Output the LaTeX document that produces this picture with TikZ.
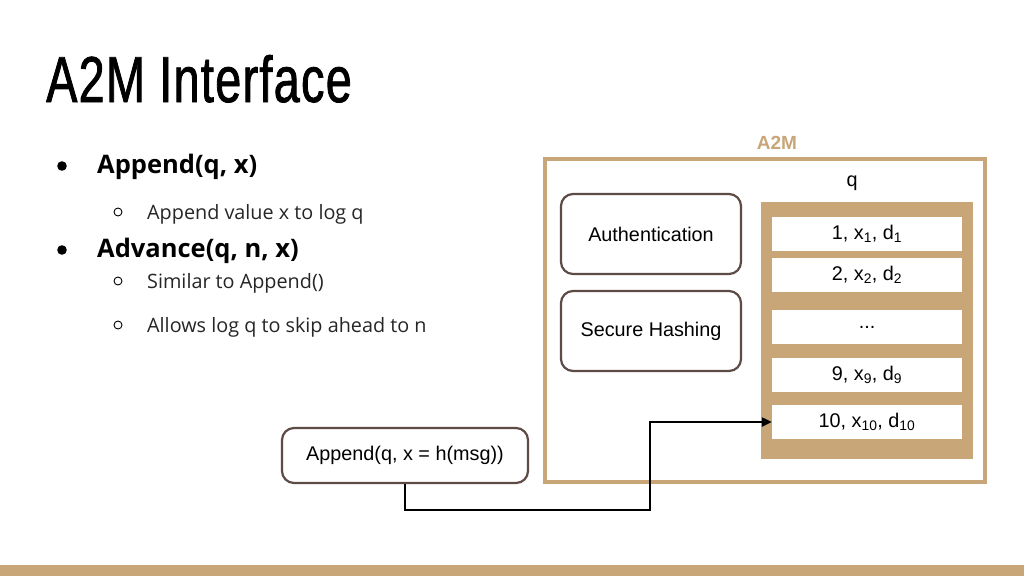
\documentclass[tikz,border=0pt]{standalone}
\usepackage{fontspec}
\setmainfont{Open Sans}
\newfontfamily\titlefont[FakeStretch=0.72,FakeBold=1.2,LetterSpace=2]{Liberation Sans}
\newfontfamily\diag{Liberation Sans}
\usetikzlibrary{arrows.meta}
\definecolor{tan}{HTML}{C9A677}
\definecolor{bord}{HTML}{5E4B45}
\tikzset{
  bul/.style={anchor=base west,inner sep=0pt,font=\fontsize{25.5}{25.5}\selectfont\bfseries},
  sub/.style={anchor=base west,inner sep=0pt,font=\fontsize{19.8}{19.8}\selectfont,text=black!85},
  rbox/.style={draw=bord,line width=2.2pt,rounded corners=12pt,fill=white,font=\diag\fontsize{19.8}{19.8}\selectfont,inner sep=0pt},
  row/.style={fill=white,minimum width=190pt,minimum height=34pt,inner sep=0pt,font=\diag\fontsize{19.8}{19.8}\selectfont},
}
\begin{document}
\begin{tikzpicture}[x=1pt,y=-1pt]
\useasboundingbox (0,0) rectangle (1024,576);
\fill[white] (0,0) rectangle (1024,576);
\fill[tan] (0,565) rectangle (1024,576);
% title
\node[anchor=base west,inner sep=0pt,font=\titlefont\fontsize{65}{65}\selectfont] (title) at (46,102) {A2M Interface};
% bullets
\fill (62,166) circle (4.8);
\fill (62,250) circle (4.8);
\draw[line width=0.9pt] (118,212) circle (4);
\draw[line width=0.9pt] (118,281) circle (4);
\draw[line width=0.9pt] (118,325) circle (4);
\node[bul] (b1) at (97,173) {Append(q, x)};
\node[sub] (s1) at (147,219) {Append value x to log q};
\node[bul] (b2) at (97,257) {Advance(q, n, x)};
\node[sub] (s2) at (147,288) {Similar to Append()};
\node[sub] (s3) at (147,332) {Allows log q to skip ahead to n};
% A2M box
\draw[tan,line width=3.2pt] (545,159) rectangle (985,482);
\node[text=tan,font=\diag\bfseries\fontsize{19}{19}\selectfont,inner sep=0pt] (lab) at (777,143) {A2M};
\node[font=\diag\fontsize{19.8}{19.8}\selectfont,inner sep=0pt] (q) at (852,183) {q};
\node[rbox,minimum width=180pt,minimum height=80pt] (auth) at (651,234) {Authentication};
\node[rbox,minimum width=180pt,minimum height=80pt] (hash) at (651,331) {Secure Hashing};
\fill[tan] (761,202) rectangle (973,459);
\node[row] (r1) at (867,234) {1, x\textsubscript{1}, d\textsubscript{1}};
\node[row] (r2) at (867,274.5) {2, x\textsubscript{2}, d\textsubscript{2}};
\node[row] (r3) at (867,327) {...};
\node[row] (r4) at (867,374.5) {9, x\textsubscript{9}, d\textsubscript{9}};
\node[row] (r5) at (867,422) {10, x\textsubscript{10}, d\textsubscript{10}};
% append box
\node[rbox,minimum width=246pt,minimum height=55pt] (app) at (405,455.5) {Append(q, x = h(msg))};
\coordinate (turn) at (650,510);
\draw[line width=2.2pt,-{Triangle[length=10pt,width=9pt]}] (app.south) |- (turn) |- (r5.west);
\end{tikzpicture}
\end{document}
